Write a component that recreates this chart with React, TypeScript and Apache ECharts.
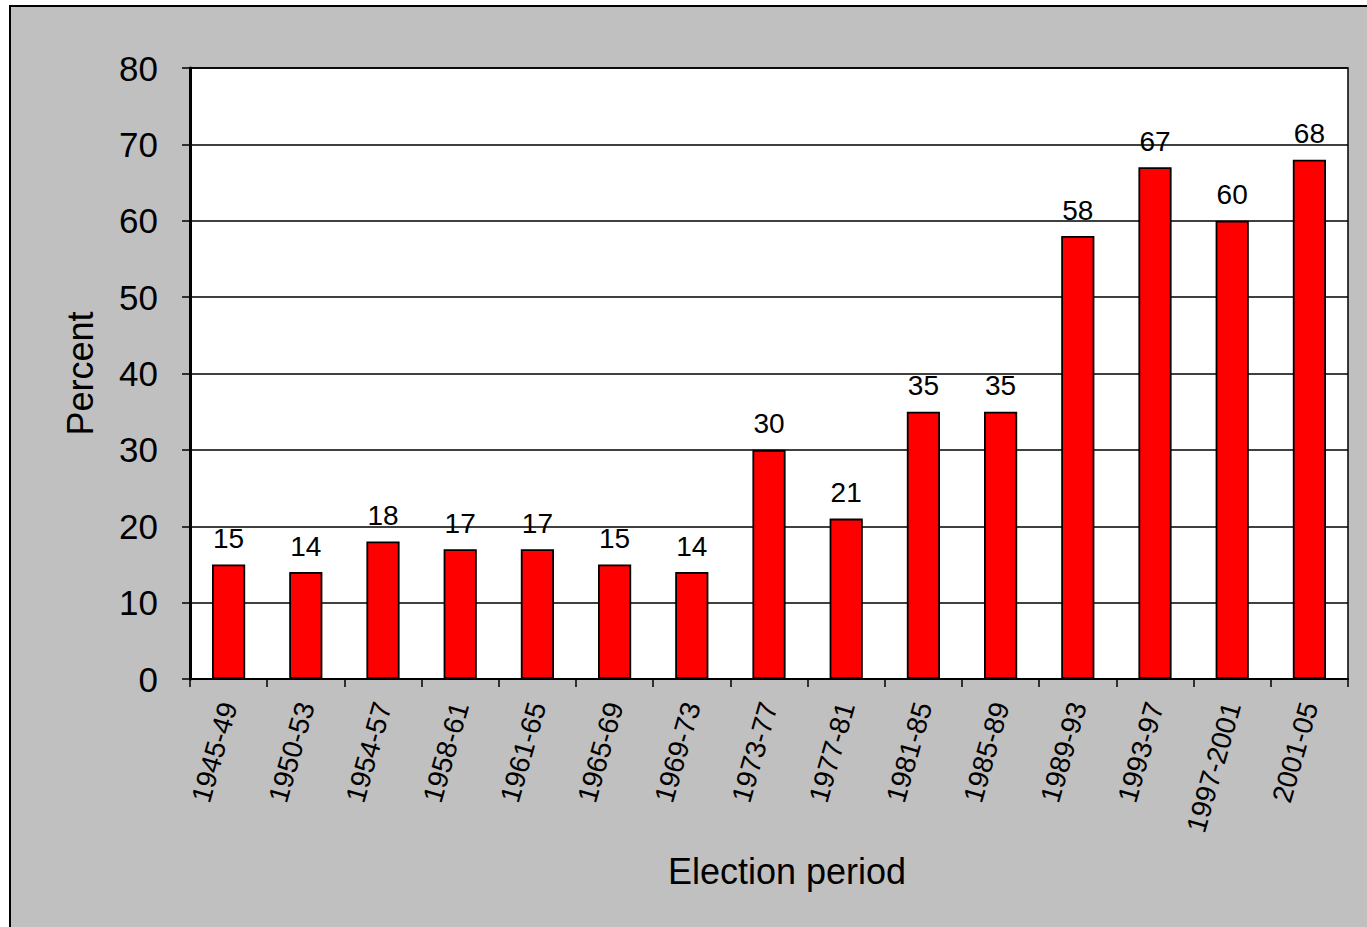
import React, { useEffect, useRef } from "react";
import * as echarts from "echarts";

// Election periods and the share (percent) recorded for each one
const periods = [
  "1945-49",
  "1950-53",
  "1954-57",
  "1958-61",
  "1961-65",
  "1965-69",
  "1969-73",
  "1973-77",
  "1977-81",
  "1981-85",
  "1985-89",
  "1989-93",
  "1993-97",
  "1997-2001",
  "2001-05",
];
const percents = [15, 14, 18, 17, 17, 15, 14, 30, 21, 35, 35, 58, 67, 60, 68];

const yMin = 0;
const yMax = 80;
const yStep = 10;

const FONT = "'Liberation Sans', Arial, Helvetica, sans-serif";

export default function App() {
  const ref = useRef<HTMLDivElement>(null);

  useEffect(() => {
    document.body.style.margin = "0";
    document.body.style.overflow = "hidden";
    if (!ref.current) return;
    const chart = echarts.init(ref.current, null, { renderer: "svg" });
    chart.setOption({
      animation: false,
      backgroundColor: "transparent",
      textStyle: { fontFamily: FONT, color: "#000" },
      grid: {
        left: 190,
        right: 19,
        top: 68,
        bottom: 248,
        show: true,
        backgroundColor: "#ffffff",
        borderColor: "#000",
        borderWidth: 1.5,
      },
      xAxis: {
        type: "category",
        data: periods,
        boundaryGap: true,
        name: "Election period",
        nameLocation: "middle",
        nameGap: 174,
        nameTextStyle: {
          fontFamily: FONT,
          fontSize: 36,
          color: "#000",
          padding: [0, 0, 0, 36],
        },
        axisLine: { show: true, lineStyle: { color: "#000", width: 2 } },
        axisTick: {
          show: true,
          alignWithLabel: false,
          inside: false,
          length: 8,
          lineStyle: { color: "#000", width: 1.5 },
        },
        axisLabel: {
          rotate: 74,
          interval: 0,
          margin: 24,
          fontFamily: FONT,
          fontSize: 28,
          color: "#000",
        },
        splitLine: { show: false },
      },
      yAxis: {
        type: "value",
        min: yMin,
        max: yMax,
        interval: yStep,
        name: "Percent",
        nameLocation: "middle",
        nameGap: 92,
        nameTextStyle: { fontFamily: FONT, fontSize: 36, color: "#000" },
        axisLine: { show: true, lineStyle: { color: "#000", width: 3 } },
        axisTick: {
          show: true,
          inside: false,
          length: 8,
          lineStyle: { color: "#000", width: 1.5 },
        },
        axisLabel: {
          margin: 32,
          fontFamily: FONT,
          fontSize: 35,
          color: "#000",
        },
        splitLine: { show: true, lineStyle: { color: "#000", width: 1.5 } },
      },
      series: [
        {
          type: "bar",
          data: percents,
          barWidth: "43%",
          itemStyle: {
            color: "#ff0000",
            borderColor: "#000",
            borderWidth: 1.8,
          },
          label: {
            show: true,
            position: "top",
            distance: 12,
            fontFamily: FONT,
            fontSize: 28,
            color: "#000",
          },
        },
      ],
    });
    return () => chart.dispose();
  }, []);

  return (
    <div
      style={{
        position: "relative",
        width: 1367,
        height: 927,
        background: "#ffffff",
        overflow: "hidden",
      }}
    >
      <div
        style={{
          position: "absolute",
          left: 9,
          top: 5,
          width: 1400,
          height: 960,
          background: "#c0c0c0",
          border: "2px solid #000",
          boxSizing: "border-box",
        }}
      />
      <div
        ref={ref}
        style={{ position: "absolute", left: 0, top: 0, width: 1367, height: 927 }}
      />
    </div>
  );
}
